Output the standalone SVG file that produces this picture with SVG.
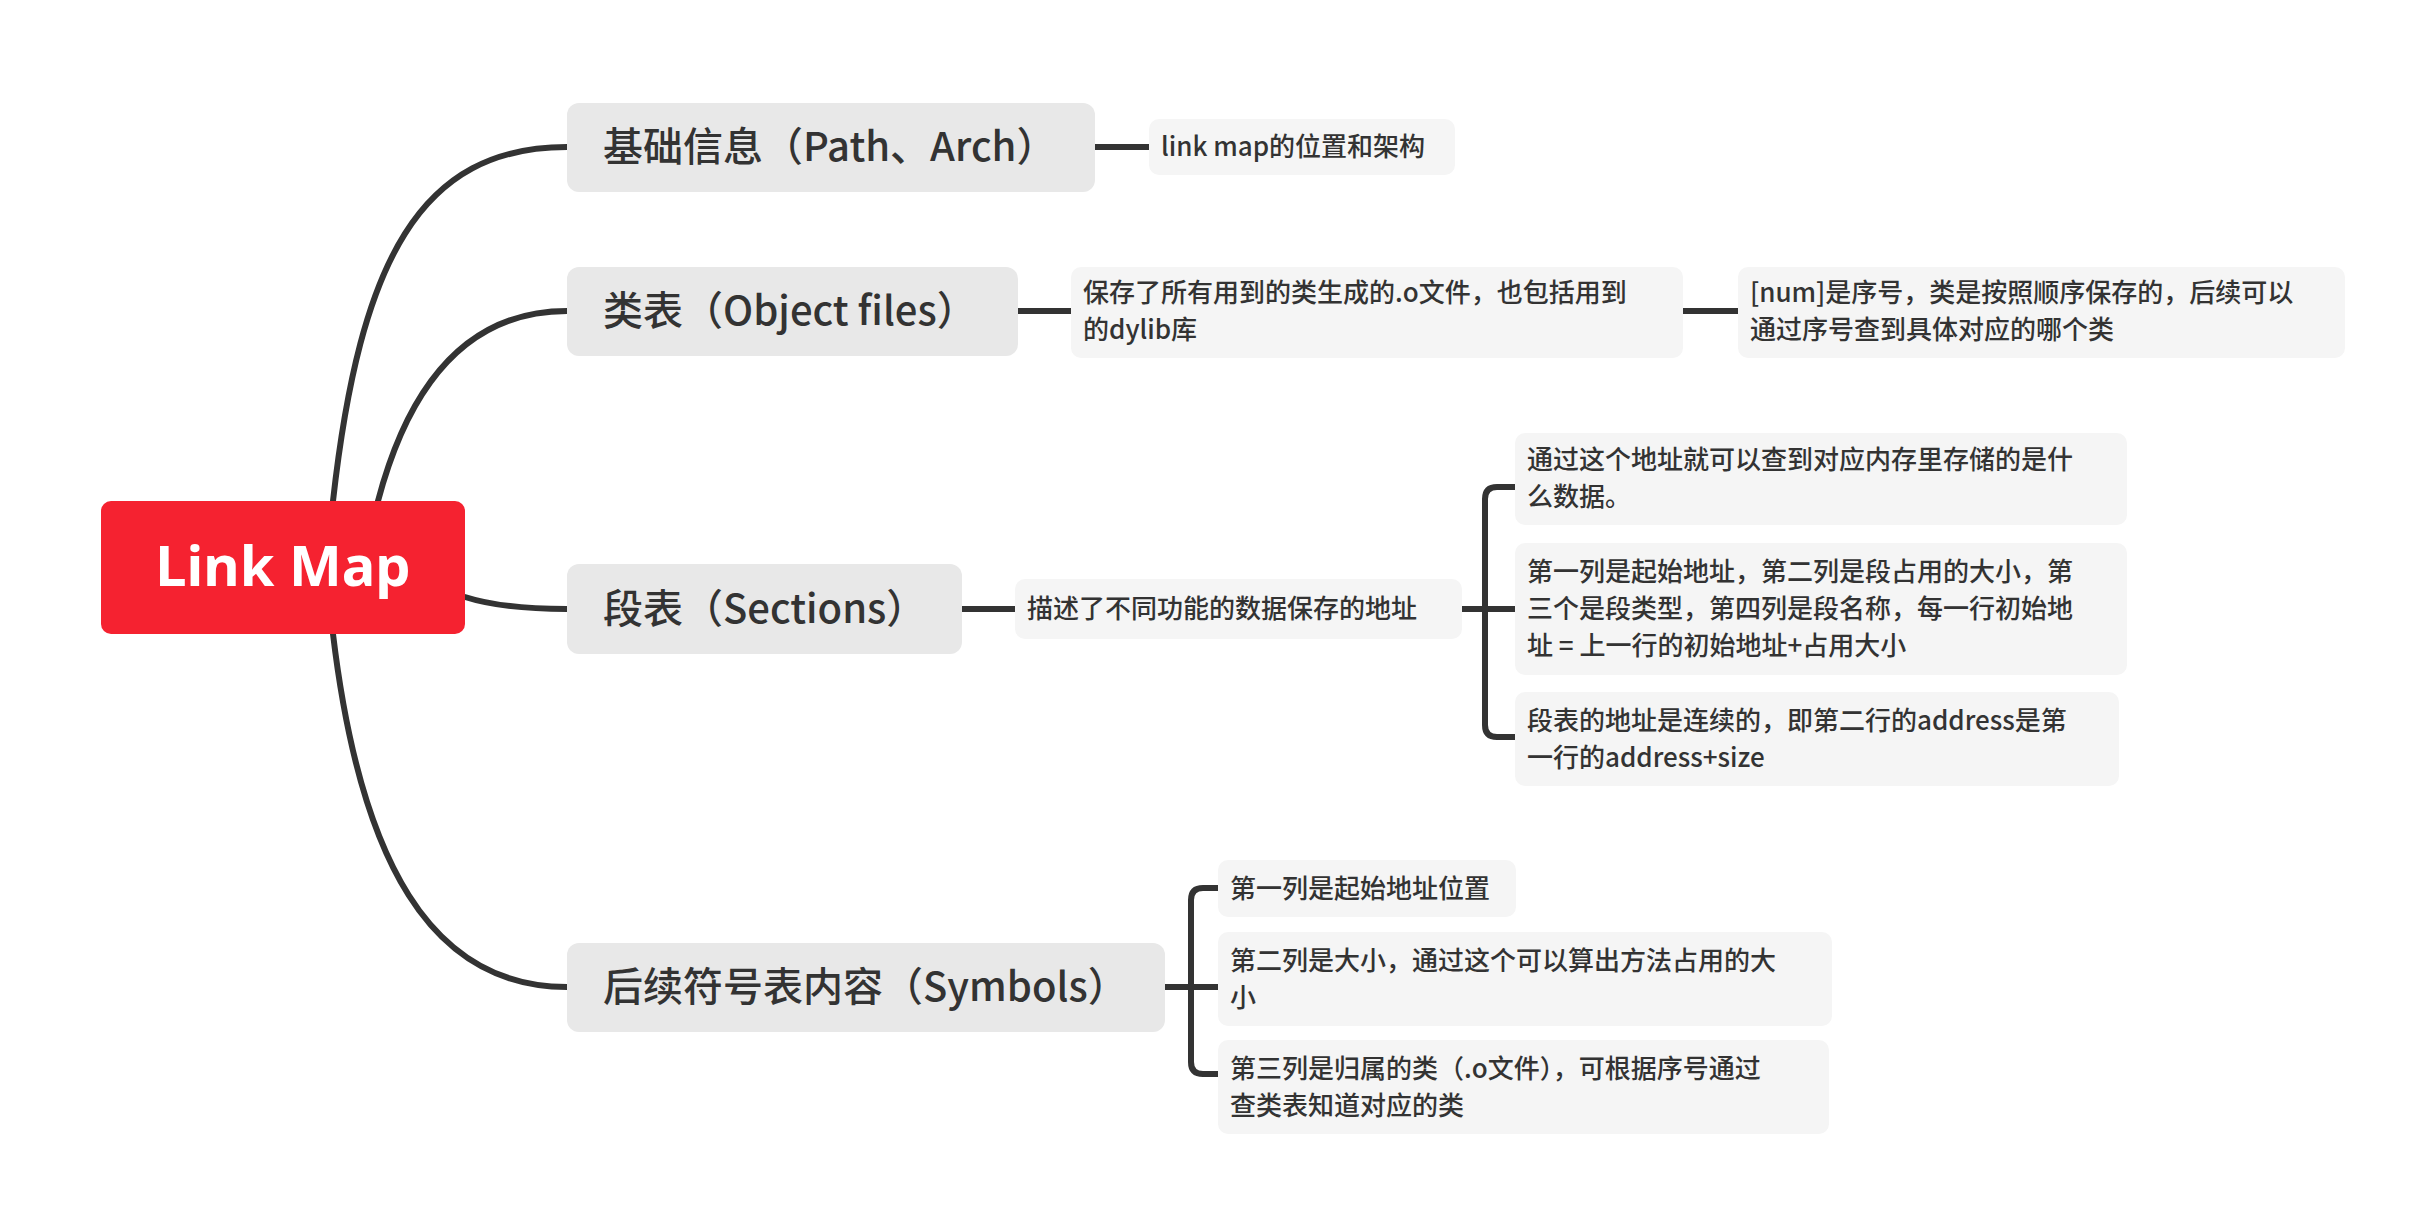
<svg xmlns="http://www.w3.org/2000/svg" width="2436" height="1230" viewBox="0 0 2436 1230">
<style>
.c{fill:none;stroke:#333;stroke-width:6;stroke-linecap:round}
.t{fill:#e8e8e8}
.s{fill:#f5f5f5}
.tt{font-family:"Noto Sans CJK SC","Noto Sans",sans-serif;font-size:40px;fill:#333;font-weight:500}
.st{font-family:"Noto Sans CJK SC","Noto Sans",sans-serif;font-size:26px;fill:#333;font-weight:500}
</style>
<rect width="2436" height="1230" fill="#fff"/>
<g id="connectors">
<path class="c" d="M333 501 C360 260 420 147 567 147"/>
<path class="c" d="M378 501 C410 380 470 311 567 311"/>
<path class="c" d="M465 597 C490 605 520 609 567 609"/>
<path class="c" d="M333 634 C360 860 430 987 567 987"/>
<path class="c" d="M1095 147 H1149"/>
<path class="c" d="M1018 311 H1071"/>
<path class="c" d="M1683 311 H1738"/>
<path class="c" d="M962 609 H1015"/>
<path class="c" d="M1462 609 H1485 M1515 487 H1497 Q1485 487 1485 499 V725 Q1485 737 1497 737 H1515 M1485 609 H1515"/>
<path class="c" d="M1165 987 H1191 M1218 888 H1203 Q1191 888 1191 900 V1062 Q1191 1074 1203 1074 H1218 M1191 987 H1218"/>
</g>
<g id="root"><rect x="101" y="501" width="364" height="133" rx="10" fill="#f52230"/><text x="283" y="586" text-anchor="middle" font-family="'Noto Sans',sans-serif" font-weight="bold" font-size="56" fill="#fff">Link Map</text></g>
<g id="t1"><rect class="t" x="567" y="103" width="528" height="89" rx="12"/><text class="tt" x="603" y="161">基础信息（Path、Arch）</text></g>
<g id="t2"><rect class="t" x="567" y="267" width="451" height="89" rx="12"/><text class="tt" x="603" y="325">类表（Object files）</text></g>
<g id="t3"><rect class="t" x="567" y="564" width="395" height="90" rx="12"/><text class="tt" x="603" y="623">段表（Sections）</text></g>
<g id="t4"><rect class="t" x="567" y="943" width="598" height="89" rx="12"/><text class="tt" x="603" y="1001">后续符号表内容（Symbols）</text></g>
<g id="n1"><rect class="s" x="1149" y="119" width="306" height="56" rx="10"/><text class="st" x="1161" y="156">link map的位置和架构</text></g>
<g id="n2"><rect class="s" x="1071" y="267" width="612" height="91" rx="10"/><text class="st" x="1083" y="302">保存了所有用到的类生成的.o文件，也包括用到</text><text class="st" x="1083" y="339">的dylib库</text></g>
<g id="n3"><rect class="s" x="1738" y="267" width="607" height="91" rx="10"/><text class="st" x="1750" y="302">[num]是序号，类是按照顺序保存的，后续可以</text><text class="st" x="1750" y="339">通过序号查到具体对应的哪个类</text></g>
<g id="n4"><rect class="s" x="1015" y="579" width="447" height="60" rx="10"/><text class="st" x="1027" y="618">描述了不同功能的数据保存的地址</text></g>
<g id="n5"><rect class="s" x="1515" y="433" width="612" height="92" rx="10"/><text class="st" x="1527" y="469">通过这个地址就可以查到对应内存里存储的是什</text><text class="st" x="1527" y="506">么数据。</text></g>
<g id="n6"><rect class="s" x="1515" y="543" width="612" height="132" rx="10"/><text class="st" x="1527" y="581">第一列是起始地址，第二列是段占用的大小，第</text><text class="st" x="1527" y="618">三个是段类型，第四列是段名称，每一行初始地</text><text class="st" x="1527" y="655">址 = 上一行的初始地址+占用大小</text></g>
<g id="n7"><rect class="s" x="1515" y="692" width="604" height="94" rx="10"/><text class="st" x="1527" y="730">段表的地址是连续的，即第二行的address是第</text><text class="st" x="1527" y="767">一行的address+size</text></g>
<g id="n8"><rect class="s" x="1218" y="860" width="298" height="57" rx="10"/><text class="st" x="1230" y="898">第一列是起始地址位置</text></g>
<g id="n9"><rect class="s" x="1218" y="932" width="614" height="94" rx="10"/><text class="st" x="1230" y="970">第二列是大小，通过这个可以算出方法占用的大</text><text class="st" x="1230" y="1007">小</text></g>
<g id="n10"><rect class="s" x="1218" y="1040" width="611" height="94" rx="10"/><text class="st" x="1230" y="1078">第三列是归属的类（.o文件），可根据序号通过</text><text class="st" x="1230" y="1115">查类表知道对应的类</text></g>
</svg>
